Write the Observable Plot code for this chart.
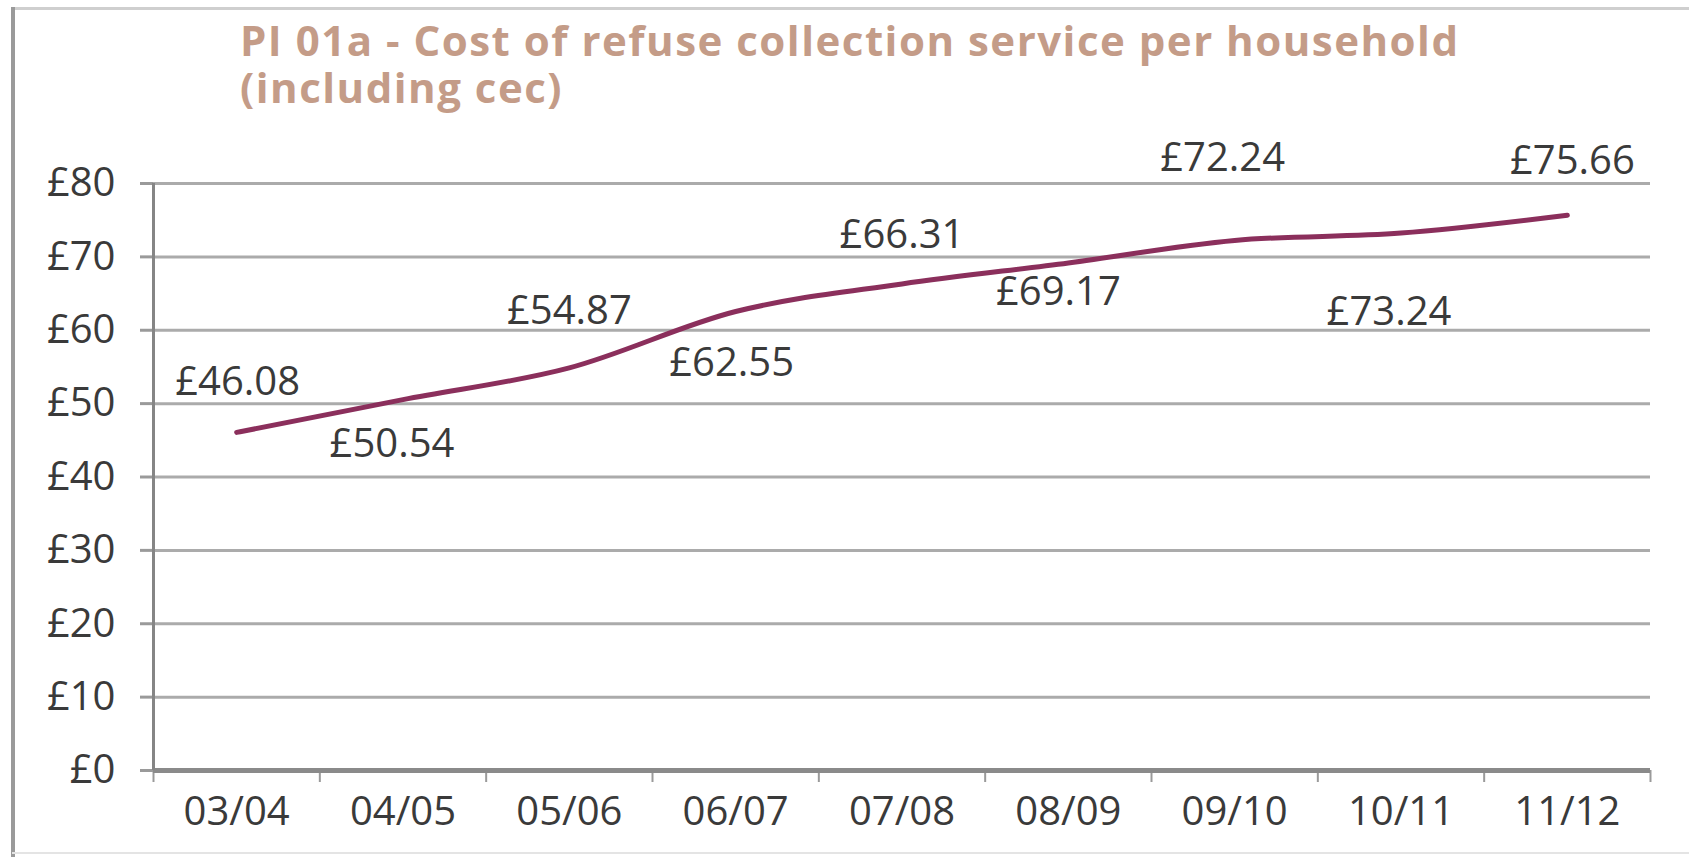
<!DOCTYPE html>
<html>
<head>
<meta charset="utf-8">
<script src="https://cdn.jsdelivr.net/npm/d3@7"></script>
<script src="https://cdn.jsdelivr.net/npm/@observablehq/plot@0.6"></script>
<style>
  html, body { margin: 0; padding: 0; background: #fff; overflow: hidden; }
  #page { position: relative; width: 1689px; height: 857px; background: #fff; }
  #frameTop { position: absolute; left: 12px; top: 7px; width: 1677px; height: 3px; background: #cfcfcf; z-index: 2; }
  #frameLeft { position: absolute; left: 11px; top: 7px; width: 4px; height: 850px; background: #9a9a9a; z-index: 2; }
  #frameBottom { position: absolute; left: 12px; top: 852px; width: 1677px; height: 2px; background: #e4e4e4; z-index: 2; }
  .title { position: absolute; left: 240px; font-family: "Open Sans", sans-serif; font-weight: 700;
           font-size: 42px; letter-spacing: 1.5px; line-height: 46px; height: 46px; color: #c49c88; white-space: nowrap; }
  #title1 { top: 17px; }
  #title2 { top: 64px; }
  #chart { position: absolute; left: 0; top: 120px; z-index: 1; }
</style>
</head>
<body>
<div id="page">
  <div id="frameTop"></div>
  <div id="frameLeft"></div>
  <div id="frameBottom"></div>
  <div class="title" id="title1">PI 01a - Cost of refuse collection service per household</div>
  <div class="title" id="title2">(including cec)</div>
  <div id="chart"></div>
</div>
<script>
// ---- data ----
const years = ["03/04", "04/05", "05/06", "06/07", "07/08", "08/09", "09/10", "10/11", "11/12"];
const costs = [46.08, 50.54, 54.87, 62.55, 66.31, 69.17, 72.24, 73.24, 75.66];
const costLabels = ["£46.08", "£50.54", "£54.87", "£62.55", "£66.31", "£69.17", "£72.24", "£73.24", "£75.66"];
const yTicks = [0, 10, 20, 30, 40, 50, 60, 70, 80];
const yTickLabels = ["£0", "£10", "£20", "£30", "£40", "£50", "£60", "£70", "£80"];

// ---- label placement offsets (px, relative to each point) ----
const labelDx = [1, -11, 0, -4, 0, -10, -12, -12, 5];
const labelDy = [-50, 45, -57, 52, -49, 29, -82, 79, -54];

const rows = years.map((yr, i) => ({pos: i + 0.5, year: yr, cost: costs[i], label: costLabels[i]}));
const boundaries = d3.range(years.length + 1);
const centers = years.map((_, i) => i + 0.5);

const font = "'Open Sans', sans-serif";
const textColor = "#3a3a3a";

const labelMarks = rows.map((r, i) =>
  Plot.text([r], {
    x: "pos", y: "cost", text: "label",
    dx: labelDx[i], dy: labelDy[i],
    fontSize: 40, fill: textColor, fontFamily: font
  })
);

const chart = Plot.plot({
  width: 1689,
  height: 737,
  marginTop: 63,
  marginBottom: 87,
  marginLeft: 153,
  marginRight: 39,
  style: {fontFamily: font, background: "transparent"},
  x: {type: "linear", domain: [0, years.length], label: null},
  y: {domain: [0, 80], label: null},
  marks: [
    // horizontal gridlines
    Plot.ruleY(yTicks.filter(v => v > 0), {stroke: "#ababab", strokeWidth: 3}),
    // y tick marks + labels
    Plot.axisY({
      ticks: yTicks, tickFormat: (d) => yTickLabels[yTicks.indexOf(d)], label: null,
      tickSize: 13, tickPadding: 25, fontSize: 40, stroke: "#9a9a9a", fill: textColor, strokeWidth: 3
    }),
    // x tick marks at category boundaries
    Plot.axisX({ticks: boundaries, tickFormat: () => "", label: null, tickSize: 12, stroke: "#9a9a9a", strokeWidth: 2}),
    // x category labels at band centres
    Plot.axisX({
      ticks: centers, tickFormat: (d) => years[Math.round(d - 0.5)], label: null,
      tickSize: 0, tickPadding: 26, fontSize: 40, fill: textColor
    }),
    // baseline and vertical axis line
    Plot.ruleY([0], {stroke: "#8a8a8a", strokeWidth: 5}),
    Plot.ruleX([0], {stroke: "#858585", strokeWidth: 3}),
    // series line
    Plot.line(rows, {x: "pos", y: "cost", stroke: "#8b2f5c", strokeWidth: 5, curve: "monotone-x"}),
    ...labelMarks
  ]
});

document.getElementById("chart").appendChild(chart);
</script>
</body>
</html>
